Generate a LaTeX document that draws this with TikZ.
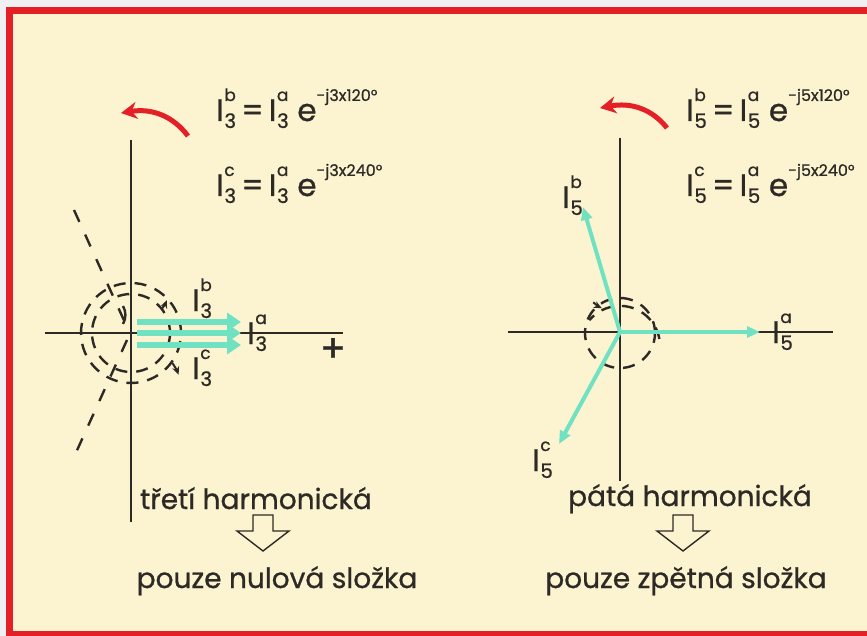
\documentclass[tikz,border=0pt]{standalone}
\usepackage{fontspec}
\setmainfont{Poppins}[FakeBold=0.8]
\usetikzlibrary{arrows.meta}
\definecolor{cream}{RGB}{252,243,208}
\definecolor{frame}{RGB}{228,32,38}
\definecolor{outside}{RGB}{240,239,244}
\definecolor{vec}{RGB}{112,226,194}
\definecolor{ink}{RGB}{45,42,38}
\newcommand\Isub[2]{I\kern0.5pt\makebox[0pt][l]{\raisebox{20pt}{\fontsize{17}{17}\selectfont #2}}\raisebox{-7pt}{\fontsize{20}{20}\selectfont #1}}
\newcommand\Expo[1]{\raisebox{20pt}{\fontsize{16}{16}\selectfont #1}}
\tikzset{
  axis/.style={draw=ink, line width=1.1pt},
  dsh/.style={draw=ink, line width=2.4pt, dash pattern=on 12pt off 9pt},
  rayd/.style={draw=ink, line width=2.4pt, dash pattern=on 13pt off 14pt},
  dashpiece/.style={draw=ink, line width=2.4pt},
  rot/.style={draw=ink, line width=2pt, -{Stealth[length=8pt,width=7pt]}},
  bigvec/.style={draw=vec, line width=6pt, -{Triangle[length=14pt,width=18pt]}},
  thinvec/.style={draw=vec, line width=4pt, -{Triangle[length=13pt,width=11pt]}},
  redarr/.style={draw=frame, line width=5pt, -{Stealth[length=16pt,width=17pt]}},
  lbl/.style={anchor=base west, inner sep=0pt, text=ink, font=\fontsize{31}{32}\selectfont},
  captext/.style={anchor=base, inner sep=0pt, text=ink, font=\fontsize{28}{30}\selectfont},
  hollow/.style={draw=ink, line width=1.4pt, fill=cream},
}
\begin{document}
\begin{tikzpicture}[x=1pt,y=-1pt]
\useasboundingbox (0,0) rectangle (867,636);
\fill[cream] (0,0) rectangle (867,636);
\fill[outside] (0,0) rectangle (6,636);
\fill[outside] (0,0) rectangle (867,7);
\fill[frame] (6,7) rectangle (13,636);
\fill[frame] (6,7) rectangle (867,14);
\fill[frame] (6,631) rectangle (867,636);

% ---------- left diagram ----------
\coordinate (oL) at (131,333);
\coordinate (vT) at (131,140);
\coordinate (vB) at (131,522);
\coordinate (hL) at (45,333);
\coordinate (hR) at (343,333);
\draw[axis] (vT) -- (vB);
\draw[axis] (hL) -- (hR);

\coordinate (rT) at (74,210);
\coordinate (rTi) at (127,327);
\coordinate (rBi) at (127,340);
\coordinate (rB) at (74,457);
\draw[rayd] (rT) -- (rTi);
\draw[rayd] (rBi) -- (rB);

\draw[dsh] (oL) circle[radius=50pt];
\draw[dsh] (oL) circle[radius=39pt];
\draw[dashpiece] (oL) ++(-8,-9) arc[start angle=-30,end angle=30,radius=18pt];
\draw[rot] (oL) ++(-38:39) arc[start angle=-38,end angle=-23,radius=39pt];
\draw[rot] (oL) ++(36:51) arc[start angle=36,end angle=21,radius=51pt];

\coordinate (a1s) at (137,322); \coordinate (a1e) at (241,322);
\coordinate (a2s) at (137,333); \coordinate (a2e) at (241,333);
\coordinate (a3s) at (137,345); \coordinate (a3e) at (241,345);
\draw[bigvec] (a1s) -- (a1e);
\draw[bigvec] (a2s) -- (a2e);
\draw[bigvec] (a3s) -- (a3e);

\node[lbl] (Lb) at (192,311) {\Isub{3}{b}};
\node[lbl] (Lc) at (192,379) {\Isub{3}{c}};
\node[lbl] (La) at (247,344) {\Isub{3}{a}};
\node[anchor=center, inner sep=0pt, text=ink, font=\fontsize{38}{38}\selectfont] (plus) at (333,350) {+};

\coordinate (rsL) at (188,136);
\coordinate (reL) at (121,113);
\draw[redarr] (rsL) .. controls (173,116) and (152,108) .. (reL);

\node[lbl] (F1) at (216,121) {\Isub{3}{b}\,=\,\Isub{3}{a}\;e\Expo{-j3x120°}};
\node[lbl] (F2) at (216,196) {\Isub{3}{c}\,=\,\Isub{3}{a}\;e\Expo{-j3x240°}};

\node[captext] (t1) at (256,509) {třetí harmonická};
\node[captext] (t2) at (277,588) {pouze nulová složka};
\draw[hollow] (253,515) -- (273,515) -- (273,531) -- (289,531) -- (263,551) -- (237,531) -- (253,531) -- cycle;

% ---------- right diagram ----------
\coordinate (oR) at (620,332);
\coordinate (wT) at (620,138);
\coordinate (wB) at (620,481);
\coordinate (gL) at (508,332);
\coordinate (gR) at (833,332);
\draw[axis] (wT) -- (wB);
\draw[axis] (gL) -- (gR);

\draw[dsh] (oR) ++(0,1) circle[radius=35pt];
\draw[dsh] (oR) ++(10:40) arc[start angle=10,end angle=140,radius=40pt];
\draw[rot] (oR) ++(-132:40) arc[start angle=-132,end angle=-117,radius=40pt];

\coordinate (va) at (760,332);
\coordinate (vb) at (583,207);
\coordinate (vc) at (559,444);
\draw[thinvec] (oR) -- (va);
\draw[thinvec] (oR) -- (vb);
\draw[thinvec] (oR) -- (vc);

\node[lbl] (Rb) at (562,208) {\Isub{5}{b}};
\node[lbl] (Ra) at (772,343) {\Isub{5}{a}};
\node[lbl] (Rc) at (532,471) {\Isub{5}{c}};

\coordinate (rsR) at (667,128);
\coordinate (reR) at (600,108);
\draw[redarr] (rsR) .. controls (652,109) and (631,102) .. (reR);

\node[lbl] (F3) at (686,121) {\Isub{5}{b}\,=\,\Isub{5}{a}\;e\Expo{-j5x120°}};
\node[lbl] (F4) at (686,196) {\Isub{5}{c}\,=\,\Isub{5}{a}\;e\Expo{-j5x240°}};

\node[captext] (t3) at (690,506) {pátá harmonická};
\node[captext] (t4) at (686,588) {pouze zpětná složka};
\draw[hollow] (673,515) -- (693,515) -- (693,531) -- (709,531) -- (683,551) -- (657,531) -- (673,531) -- cycle;
\end{tikzpicture}
\end{document}
